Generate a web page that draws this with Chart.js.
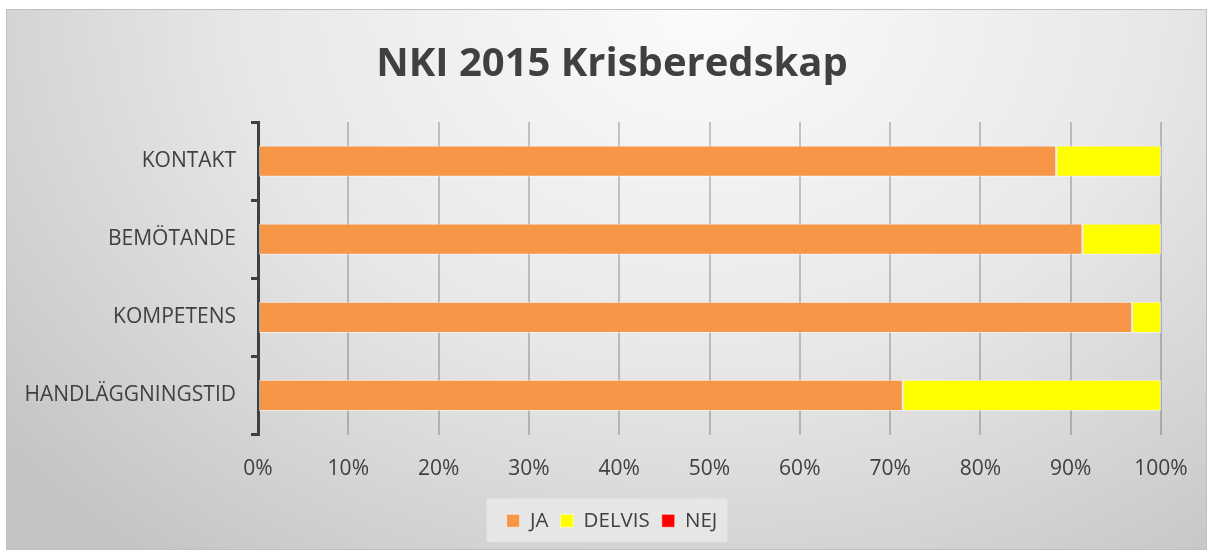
<!DOCTYPE html>
<html>
<head>
<meta charset="utf-8">
<script src="https://cdn.jsdelivr.net/npm/chart.js@4"></script>
<style>
  body { margin: 0; background: #fff; }
  #ram {
    position: absolute; left: 6px; top: 9px; width: 1199px; height: 539px;
    border: 1px solid #c0c0c0;
    background: radial-gradient(ellipse 75% 130% at 58% 0%, #fbfbfb 0%, #e8e8e8 50%, #cfcfcf 85%, #c4c4c4 100%);
  }
  canvas { display: block; }
</style>
</head>
<body>
<div id="ram"><canvas id="graf" width="1199" height="539"></canvas></div>
<script>
const kategorier = ['KONTAKT', 'BEMÖTANDE', 'KOMPETENS', 'HANDLÄGGNINGSTID'];
const ja = [88.4, 91.3, 96.8, 71.4];
const delvis = [11.6, 8.7, 3.2, 28.6];
const nej = [0, 0, 0, 0];
const xTicks = [0, 10, 20, 30, 40, 50, 60, 70, 80, 90, 100];

const textFarg = '#404040';
const typsnitt = "'Open Sans', sans-serif";

// ljus ruta bakom förklaringen
const legendRuta = {
  id: 'legendRuta',
  beforeDraw(chart) {
    const boxar = chart.legend.legendHitBoxes;
    if (!boxar || !boxar.length) return;
    const x1 = Math.min(...boxar.map(b => b.left)) - 20;
    const x2 = Math.max(...boxar.map(b => b.left + b.width)) + 10;
    const y1 = Math.min(...boxar.map(b => b.top)) - 12;
    const y2 = Math.max(...boxar.map(b => b.top + b.height)) + 11;
    const ctx = chart.ctx;
    ctx.save();
    ctx.fillStyle = 'rgba(232,232,232,0.9)';
    ctx.fillRect(x1, y1, x2 - x1, y2 - y1);
    ctx.restore();
  }
};

function dataset(label, data, farg) {
  return { label, data, backgroundColor: farg, borderColor: 'rgba(255,255,255,0.55)', borderWidth: 1, borderSkipped: false };
}

new Chart(document.getElementById('graf'), {
  type: 'bar',
  data: {
    labels: kategorier,
    datasets: [
      dataset('JA', ja, '#F79646'),
      dataset('DELVIS', delvis, '#FFFF00'),
      dataset('NEJ', nej, '#FF0000')
    ]
  },
  plugins: [legendRuta],
  options: {
    indexAxis: 'y',
    responsive: false,
    animation: false,
    categoryPercentage: 1,
    barPercentage: 0.4,
    layout: { padding: { left: 56, right: 45, top: 0, bottom: 8 } },
    plugins: {
      title: {
        display: true,
        text: 'NKI 2015 Krisberedskap',
        color: textFarg,
        font: { family: typsnitt, size: 40, weight: 'bold' },
        padding: { top: 31, bottom: 33 }
      },
      legend: {
        position: 'bottom',
        labels: {
          color: textFarg,
          font: { family: typsnitt, size: 20.5 },
          boxWidth: 13,
          boxHeight: 13,
          padding: 12
        }
      },
      tooltip: { enabled: false }
    },
    scales: {
      x: {
        stacked: true,
        min: 0,
        max: 100,
        afterBuildTicks: s => { s.ticks = xTicks.map(v => ({ value: v })); },
        afterFit: s => {
          s.height = 64;
          s.paddingLeft = 0;
          s.paddingRight = 0;
        },
        border: { display: false },
        grid: { color: 'rgba(0,0,0,0.2)', lineWidth: 2, drawTicks: false },
        ticks: {
          color: textFarg,
          font: { family: typsnitt, size: 21 },
          padding: 22,
          callback: v => v + '%'
        }
      },
      y: {
        stacked: true,
        afterFit: s => {
          s.width = 195;
          s._computeLabelArea = () => undefined; // långa etiketter ska inte klippas
        },
        border: { display: true, color: textFarg, width: 3 },
        grid: { offset: true, drawOnChartArea: false, color: textFarg, lineWidth: 3, tickLength: 7 },
        ticks: {
          color: textFarg,
          font: { family: typsnitt, size: 21 },
          padding: 15
        }
      }
    }
  }
});
</script>
</body>
</html>
